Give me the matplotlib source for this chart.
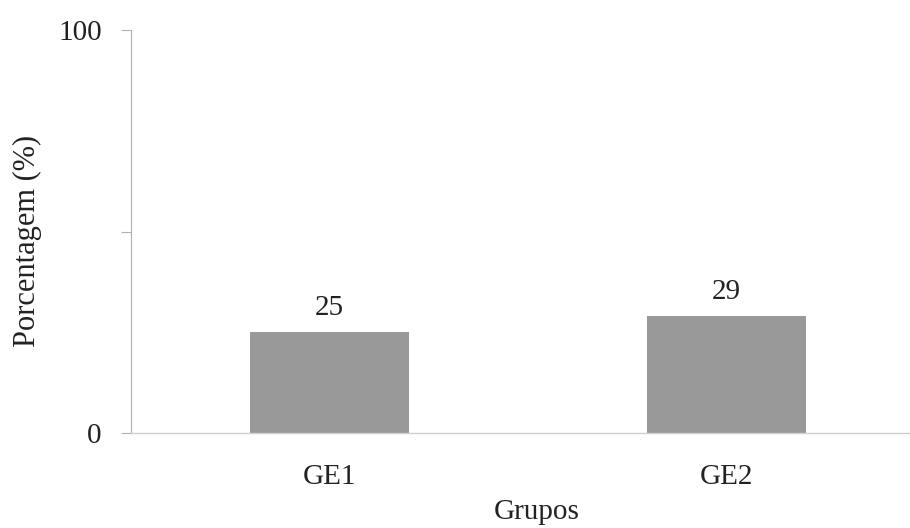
import matplotlib
matplotlib.use("Agg")
import matplotlib.pyplot as plt

# Data
grupos = ["GE1", "GE2"]
porcentagem = [25, 29]
y_ticks = [0, 50, 100]
y_tick_labels = ["0", "", "100"]

W, H, DPI = 910, 528, 100
plt.rcParams["font.family"] = ["Liberation Serif", "DejaVu Serif"]

fig = plt.figure(figsize=(W / DPI, H / DPI), dpi=DPI)
left, right, top, bottom = 131, 909, 30, 433
ax = fig.add_axes([left / W, 1 - bottom / H, (right - left) / W, (bottom - top) / H])

x = list(range(len(grupos)))
bars = ax.bar(x, porcentagem, width=0.4, color="#999999", zorder=2)

for xi, v in zip(x, porcentagem):
    ax.annotate(f"{v}", (xi, v), xytext=(0, 8), textcoords="offset points",
                ha="center", va="bottom", fontsize=21, color="#222222")

ax.set_xlim(-0.5, 1.46)
ax.set_ylim(0, 100)
ax.set_yticks(y_ticks)
ax.set_yticklabels(y_tick_labels)
ax.set_xticks(x)
ax.set_xticklabels(grupos)

ax.tick_params(axis="y", length=7, width=0.8, color="#b0b0b0", pad=14,
               labelsize=21, labelcolor="#222222")
ax.tick_params(axis="x", length=0, pad=22, labelsize=21, labelcolor="#222222")

for s in ["top", "right"]:
    ax.spines[s].set_visible(False)
ax.spines["left"].set_color("#b0b0b0")
ax.spines["left"].set_linewidth(0.8)
ax.spines["bottom"].set_color("#d0d0d0")
ax.spines["bottom"].set_linewidth(1.0)

ax.set_xlabel("Grupos", fontsize=21, color="#222222")
ax.set_ylabel("Porcentagem (%)", fontsize=22, color="#222222")
ax.yaxis.set_label_coords(-0.114, 0.476)
ax.xaxis.set_label_coords((537 - left) / (right - left), -(499 - bottom) / (bottom - top))

fig.savefig("out.png", dpi=DPI, facecolor="white")
